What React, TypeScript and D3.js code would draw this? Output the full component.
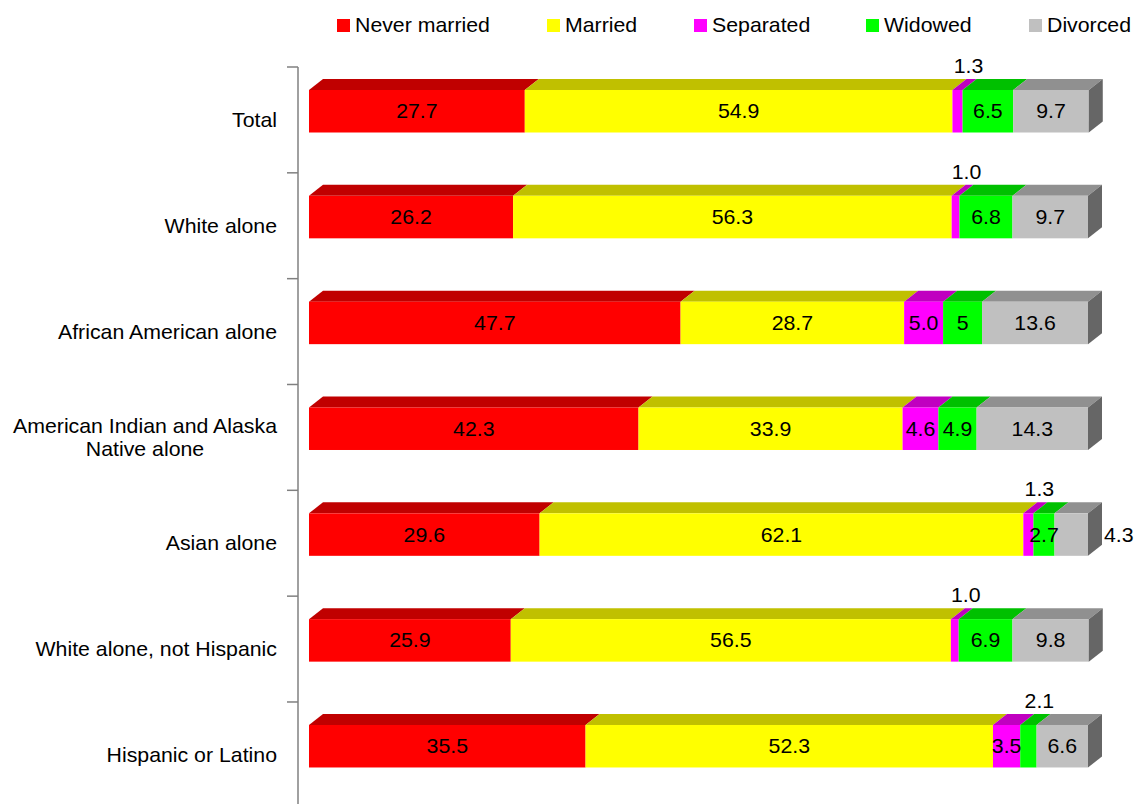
import React, { useEffect, useRef } from "react";
import * as d3 from "d3";

const categories = [
  "Total",
  "White alone",
  "African American alone",
  "American Indian and Alaska\nNative alone",
  "Asian alone",
  "White alone, not Hispanic",
  "Hispanic or Latino",
];
const seriesNames = ["Never married", "Married", "Separated", "Widowed", "Divorced"];
const neverMarried = [27.7, 26.2, 47.7, 42.3, 29.6, 25.9, 35.5];
const married = [54.9, 56.3, 28.7, 33.9, 62.1, 56.5, 52.3];
const separated = [1.3, 1.0, 5.0, 4.6, 1.3, 1.0, 3.5];
const widowed = [6.5, 6.8, 5, 4.9, 2.7, 6.9, 2.1];
const divorced = [9.7, 9.7, 13.6, 14.3, 4.3, 9.8, 6.6];
const widowedText = ["6.5", "6.8", "5", "4.9", "2.7", "6.9", "2.1"];

const frontColors = ["#FF0000", "#FFFF00", "#FF00FF", "#00FF00", "#C0C0C0"];
const topColors = ["#C00000", "#C0C000", "#C000C0", "#00C000", "#909090"];
const sideColor = "#666666";

const FONT = "'Liberation Sans', Arial, Helvetica, sans-serif";
const SX = 1.065;

export default function App() {
  const ref = useRef<SVGSVGElement>(null);

  useEffect(() => {
    const svg = d3.select(ref.current);
    svg.selectAll("*").remove();
    const values = [neverMarried, married, separated, widowed, divorced];
    const fmt = d3.format(".1f");

    const addText = (parent: any, tx: number, ty: number, str: string, anchor: string) =>
      parent
        .append("text")
        .attr("transform", `translate(${tx},${ty}) scale(${SX},1)`)
        .attr("text-anchor", anchor)
        .attr("font-family", FONT)
        .attr("font-size", 20)
        .attr("fill", "#000")
        .text(str);

    const x = d3.scaleLinear().domain([0, 100]).range([309, 1088]);
    const band = 105.83;
    const y = d3
      .scaleBand()
      .domain(categories)
      .range([67, 67 + band * categories.length])
      .padding(0);
    const dx = 14;
    const dy = 11;
    const frontOff = 23;
    const h = 42.5;

    // axis
    const axisX = 298;
    svg
      .append("line")
      .attr("x1", axisX)
      .attr("x2", axisX)
      .attr("y1", 67)
      .attr("y2", 67 + band * categories.length)
      .attr("stroke", "#808080")
      .attr("stroke-width", 1.5);
    for (let i = 0; i <= categories.length; i++) {
      const ty = 67 + band * i;
      svg
        .append("line")
        .attr("x1", 287)
        .attr("x2", axisX)
        .attr("y1", ty)
        .attr("y2", ty)
        .attr("stroke", "#808080")
        .attr("stroke-width", 1.5);
    }

    // category labels
    categories.forEach((c) => {
      const lines = c.split("\n");
      const cy = (y(c) as number) + band / 2;
      const lh = 23;
      if (lines.length === 1) {
        addText(svg, 277, cy + 7, lines[0], "end");
      } else {
        const probe = svg.append("g").attr("opacity", 0);
        const widths = lines.map((ln) => {
          const t = addText(probe, 0, 0, ln, "start");
          return (t.node() as SVGTextElement).getComputedTextLength() * SX;
        });
        probe.remove();
        const maxW = Math.max(...widths);
        const cx = 277 - maxW / 2;
        lines.forEach((ln, i) =>
          addText(svg, cx, cy + 7 + (i - (lines.length - 1) / 2) * lh, ln, "middle")
        );
      }
    });

    // bars
    categories.forEach((c, ci) => {
      const yf = (y(c) as number) + frontOff;
      let cum = 0;
      const segs = values.map((arr, si) => {
        const v = arr[ci];
        const s = { si, v, x0: x(cum), x1: x(cum + v) };
        cum += v;
        return s;
      });
      const g = svg.append("g");
      segs.forEach((s) => {
        g.append("polygon")
          .attr(
            "points",
            [
              [s.x0, yf],
              [s.x1, yf],
              [s.x1 + dx, yf - dy],
              [s.x0 + dx, yf - dy],
            ].join(" ")
          )
          .attr("fill", topColors[s.si]);
        g.append("rect")
          .attr("x", s.x0)
          .attr("y", yf)
          .attr("width", Math.max(0, s.x1 - s.x0))
          .attr("height", h)
          .attr("fill", frontColors[s.si]);
      });
      const last = segs[segs.length - 1];
      g.append("polygon")
        .attr(
          "points",
          [
            [last.x1, yf],
            [last.x1 + dx, yf - dy],
            [last.x1 + dx, yf + h - dy],
            [last.x1, yf + h],
          ].join(" ")
        )
        .attr("fill", sideColor);

      // labels
      segs.forEach((s, k) => {
        const txt = s.si === 3 ? widowedText[ci] : fmt(s.v);
        const cx = (s.x0 + s.x1) / 2;
        if (s.v <= 2.1) {
          addText(g, cx + 11, yf - 17, txt, "middle");
        } else if (k === segs.length - 1 && s.v < 5) {
          addText(g, s.x1 + dx + 2, yf + h / 2 + 7, txt, "start");
        } else {
          addText(g, cx, yf + h / 2 + 7, txt, "middle");
        }
      });
    });

    // legend
    const legendX = [337, 547, 694, 866, 1029];
    seriesNames.forEach((n, i) => {
      svg
        .append("rect")
        .attr("x", legendX[i])
        .attr("y", 19)
        .attr("width", 13)
        .attr("height", 13)
        .attr("fill", frontColors[i]);
      addText(svg, legendX[i] + 18, 32, n, "start");
    });
  }, []);

  return (
    <svg
      ref={ref}
      width={1136}
      height={804}
      style={{ position: "absolute", left: 0, top: 0, background: "#fff" }}
    />
  );
}
